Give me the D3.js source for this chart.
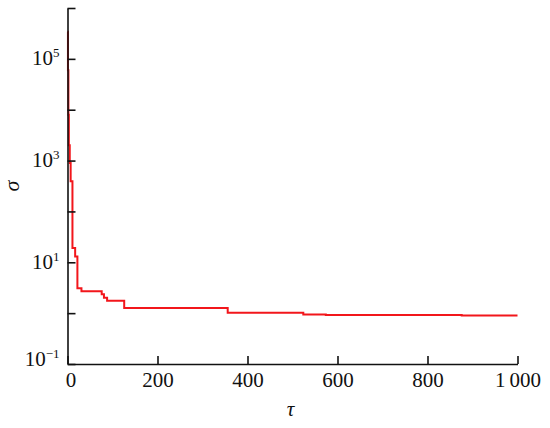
<!DOCTYPE html>
<html>
<head>
<meta charset="utf-8">
<script src="https://cdn.jsdelivr.net/npm/d3@7"></script>
<style>
  body { margin: 0; background: #fff; }
  svg text { font-family: "Liberation Serif", "Times New Roman", serif !important; }
</style>
</head>
<body>
<svg id="chart"></svg>
<script>
// step points of the curve (tau, sigma)
const tau = [0, 1, 2, 3, 5, 7, 11, 17, 22, 31, 76, 81, 88, 126, 356, 524, 574, 876, 1000];
const sigma = [340000, 60000, 8000, 2000, 900, 390, 19, 13, 3.1, 2.7, 2.35, 2.0, 1.76, 1.26, 1.02, 0.94, 0.92, 0.90, 0.90];

const xTicks = [0, 200, 400, 600, 800, 1000];
const xTickLabels = ['0', '200', '400', '600', '800', '1\u2009000'];
const yTicks = [1e-1, 1, 10, 100, 1e3, 1e4, 1e5, 1e6];
const yTickExp = ['\u22121', '', '1', '', '3', '', '5', ''];

const data = tau.map((t, i) => ({ t: t, s: sigma[i] }));

const width = 550;
const height = 428;
const margin = { top: 8, right: 32.5, bottom: 64, left: 67.5 };

const svg = d3.select('#chart')
  .attr('width', width)
  .attr('height', height);

const x = d3.scaleLinear()
  .domain([0, 1000])
  .range([margin.left, width - margin.right]);

const y = d3.scaleLog()
  .domain([1e-1, 1e6])
  .range([height - margin.bottom, margin.top]);

// line first so the axes sit on top of it
const line = d3.line()
  .x((d) => x(d.t))
  .y((d) => y(d.s))
  .curve(d3.curveStepAfter);

svg.append('path')
  .datum(data)
  .attr('fill', 'none')
  .attr('stroke', '#f2161b')
  .attr('stroke-width', 2)
  .attr('d', line);

const xAxis = d3.axisBottom(x)
  .tickValues(xTicks)
  .tickFormat((d, i) => xTickLabels[i])
  .tickSizeInner(-8)
  .tickSizeOuter(0);

const gx = svg.append('g')
  .attr('transform', `translate(0, ${height - margin.bottom})`)
  .call(xAxis);

gx.selectAll('text')
  .attr('y', 23)
  .attr('dy', 0)
  .attr('fill', '#111')
  .attr('font-size', '21px');

gx.selectAll('.tick').filter((d) => d === 0).select('text').attr('dx', 3);

const yAxis = d3.axisLeft(y)
  .tickValues(yTicks)
  .tickFormat(() => '')
  .tickSizeInner(-8)
  .tickSizeOuter(0);

const gy = svg.append('g')
  .attr('transform', `translate(${margin.left}, 0)`)
  .call(yAxis);

gy.selectAll('.tick text').each(function (d, i) {
  const e = yTickExp[i];
  if (!e) return;
  const t = d3.select(this)
    .attr('x', -8)
    .attr('dy', 0)
    .attr('y', d === 1e-1 ? 1 : 6)
    .attr('fill', '#111')
    .attr('font-size', '21px')
    .attr('text-anchor', 'end');
  t.append('tspan').text('10');
  t.append('tspan')
    .attr('font-size', '13px')
    .attr('dy', -8)
    .text(e);
});

svg.selectAll('.domain, .tick line')
  .attr('stroke', '#111')
  .attr('stroke-width', 1.6);

// axis titles
svg.append('text')
  .attr('x', (x(0) + x(1000)) / 2 - 2)
  .attr('y', 416)
  .attr('text-anchor', 'middle')
  .attr('font-size', '21px')
  .attr('font-style', 'italic')
  .attr('fill', '#111')
  .text('τ');

svg.append('text')
  .attr('transform', `translate(19, ${(y(1e-1) + y(1e6)) / 2}) rotate(-90)`)
  .attr('text-anchor', 'middle')
  .attr('font-size', '22px')
  .attr('font-style', 'italic')
  .attr('fill', '#111')
  .text('σ');
</script>
</body>
</html>
